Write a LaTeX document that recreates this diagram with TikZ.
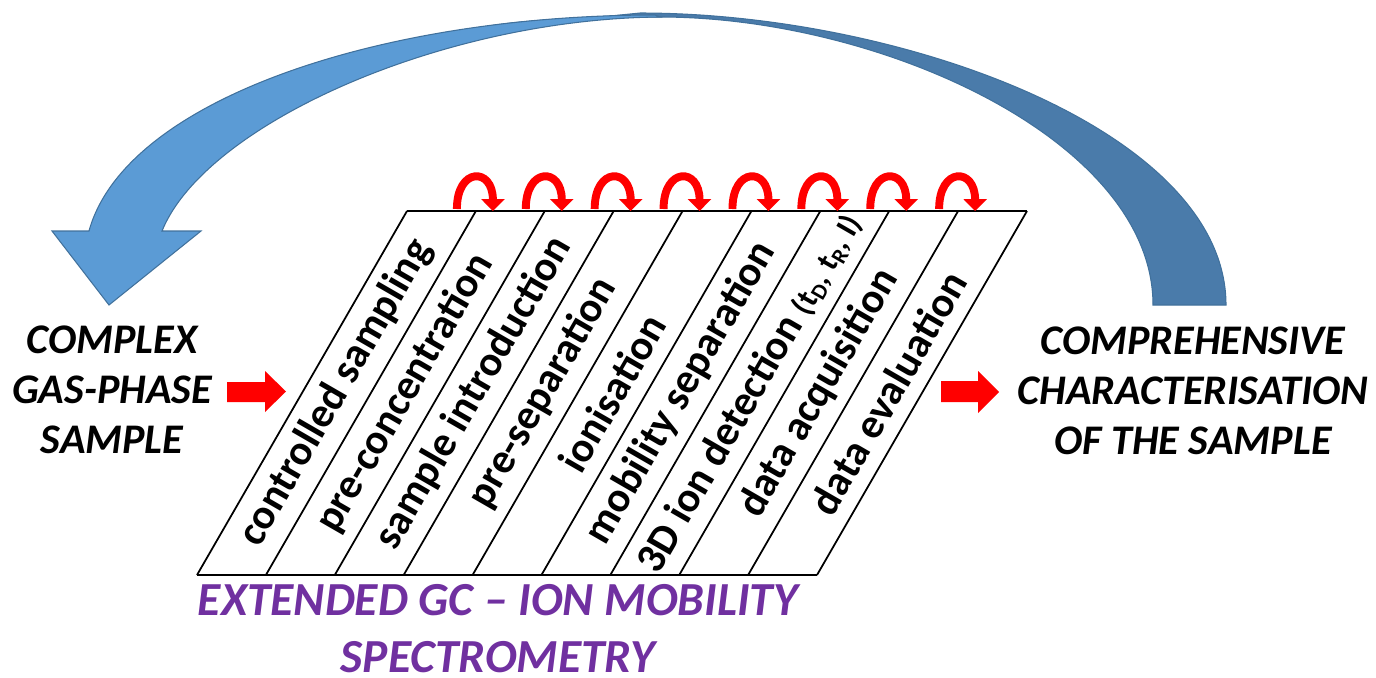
\documentclass[tikz,border=0pt]{standalone}
\usepackage{fontspec}
\setmainfont{Carlito}
\usetikzlibrary{arrows.meta,calc}
\definecolor{lightblue}{HTML}{5B9BD5}
\definecolor{darkblue}{HTML}{4A7BAA}
\definecolor{edgeblue}{HTML}{41719C}
\definecolor{gcpurple}{HTML}{7030A0}
\begin{document}
\begin{tikzpicture}[x=0.02cm, y=-0.02cm,
    steplabel/.style={rotate=60, inner sep=0pt, font=\fontsize{24}{28}\selectfont\bfseries},
    sidetext/.style={align=center, font=\fontsize{24}{28.5}\selectfont\bfseries\itshape},
    looparrow/.style={red, line width=4.5pt, -{Triangle[length=0.24cm, width=0.46cm]}}]
\useasboundingbox (0,0) rectangle (1376,677);

% big curved return arrow
\filldraw[darkblue, draw=edgeblue, line width=0.6pt] (640,13) .. controls (900,13) and (1226,130) .. (1226,305) -- (1153,305) .. controls (1153,140) and (880,17) .. (660,17) .. controls (560,17) and (500,22) .. (470,30) -- cycle;
\filldraw[lightblue, draw=edgeblue, line width=0.6pt] (655,15) .. controls (380,15) and (125,100) .. (89,231) -- (52,231) -- (109,305) -- (201,231) -- (162,231) .. controls (205,125) and (440,19) .. (660,17) -- cycle;

% the slanted box
\coordinate (BL) at (197,575);
\coordinate (TL) at (407,211);
\coordinate (TR) at (1027,211);
\coordinate (BR) at (817,575);
\draw[line width=1.6pt] (BL) -- (BR);
\draw[line width=1.6pt] (TL) -- (TR);
\draw[line width=1pt] (BL) -- (TL);
\draw[line width=1pt] (BR) -- (TR);
\foreach \i in {1,...,8} {
  \coordinate (b\i) at ({197+68.89*\i},575);
  \coordinate (t\i) at ({407+68.89*\i},211);
  \draw[line width=1pt] (b\i) -- (t\i);
  \draw[looparrow] ($(t\i)+(-19,-2)$) .. controls ($(t\i)+(-19,-44)$) and ($(t\i)+(17,-44)$) .. ($(t\i)+(17,0)$);
}

% step labels
\node[steplabel] (s0) at (336,393) {controlled sampling};
\node[steplabel] (s1) at (405,393) {pre-concentration};
\node[steplabel] (s2) at (474,393) {sample introduction};
\node[steplabel] (s3) at (543,393) {pre-separation};
\node[steplabel] (s4) at (612,393) {ionisation};
\node[steplabel] (s5) at (681,393) {mobility separation};
\node[steplabel] (s6) at (750,393) {3D ion detection {\fontsize{18}{20}\selectfont(t\textsubscript{D}, t\textsubscript{R}, I)}};
\node[steplabel] (s7) at (819,393) {data acquisition};
\node[steplabel] (s8) at (888,393) {data evaluation};

% in and out
\node[sidetext] (S) at (112,390) {COMPLEX\\GAS-PHASE\\SAMPLE};
\node[sidetext] (C) at (1193,391) {COMPREHENSIVE\\CHARACTERISATION\\OF THE SAMPLE};
\fill[red] (227,382) -- (265,382) -- (265,371) -- (286,391.5) -- (265,412) -- (265,402) -- (227,402) -- cycle;
\fill[red] (941,381) -- (978,381) -- (978,371) -- (999,392) -- (978,413) -- (978,402) -- (941,402) -- cycle;

% method name
\node[align=center, inner sep=0pt, text=gcpurple, font=\fontsize{27}{32.4}\selectfont\bfseries\itshape] (G) at (498,629) {EXTENDED GC -- ION MOBILITY\\SPECTROMETRY};
\end{tikzpicture}
\end{document}
